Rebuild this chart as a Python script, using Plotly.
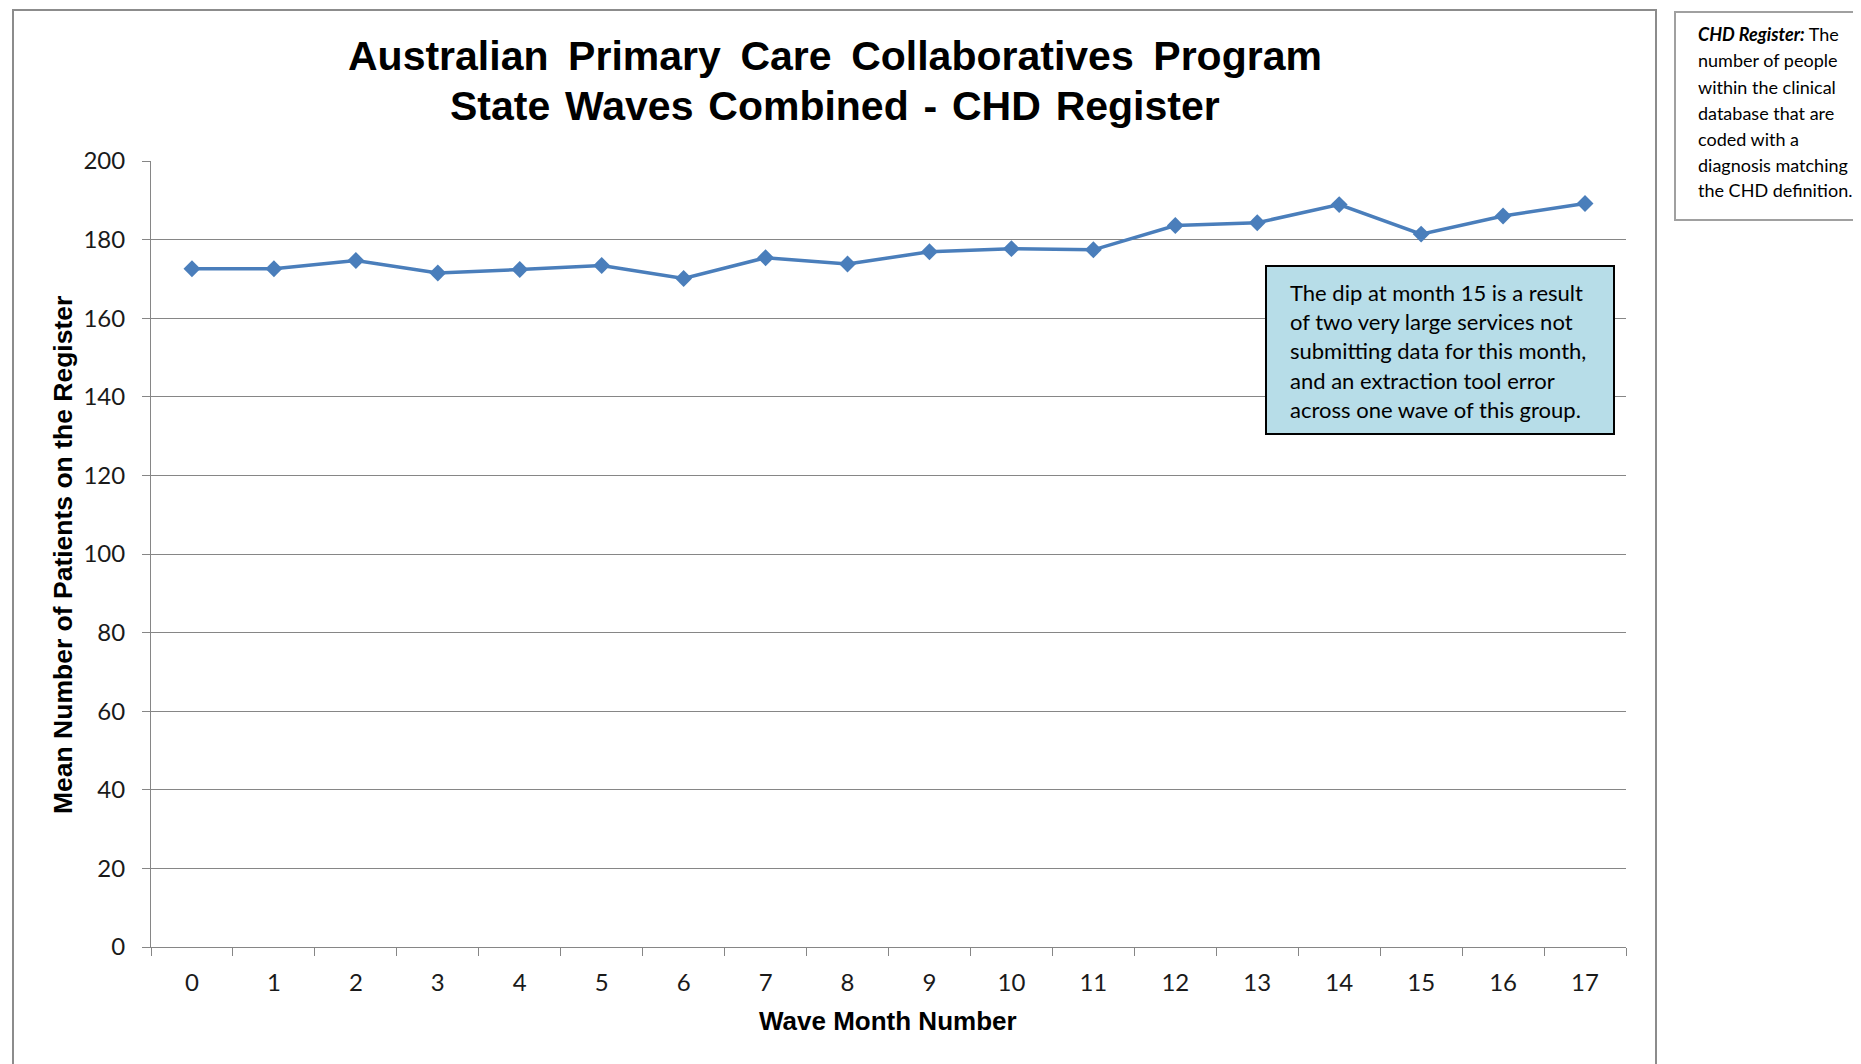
import plotly.graph_objects as go

months = [str(i) for i in range(18)]
mean_patients = [172.6, 172.6, 174.7, 171.5, 172.4, 173.4, 170.1, 175.4, 173.8,
                 176.9, 177.7, 177.4, 183.6, 184.3, 188.9, 181.4, 186.0, 189.2]
y_ticks = [0, 20, 40, 60, 80, 100, 120, 140, 160, 180, 200]

title_lines = ["Australian Primary Care Collaboratives Program",
               "State Waves Combined - CHD Register"]
x_title = "Wave Month Number"
y_title = "Mean Number of Patients on the Register"
note_lines = ["The dip at month 15 is a result",
              "of two very large services not",
              "submitting data for this month,",
              "and an extraction tool error",
              "across one wave of this group."]
side_lines = ["<b><i>CHD Register:</i></b> The", "number of people", "within the clinical",
              "database that are", "coded with a", "diagnosis matching",
              "the CHD definition."]

# the page body adds an 8px margin; positions below are in screen pixels
OFF = 8
W, H = 1861 - OFF, 1064 - OFF
PL, PR, PT, PB = 151, 1626, 161, 947


def px(x):
    return (x - PL) / (PR - PL)


def py(y):
    return (PB - y) / (PB - PT)


fig = go.Figure()
fig.add_trace(go.Scatter(
    x=months, y=mean_patients, mode="lines+markers",
    line=dict(color="#4A7EBB", width=3.5),
    marker=dict(symbol="diamond", size=13, color="#4A7EBB"),
    showlegend=False, cliponaxis=False,
))

gray = "#868686"
fig.update_layout(
    width=W, height=H, autosize=False,
    margin=dict(l=PL - OFF, r=W - (PR - OFF), t=PT - OFF, b=H - (PB - OFF), pad=0),
    paper_bgcolor="white", plot_bgcolor="white",
    xaxis=dict(type="category", range=[-0.5, 17.5], tickson="boundaries", ticks="outside",
               ticklen=8, tickcolor=gray, tickwidth=1, showgrid=False, showline=True,
               linecolor=gray, linewidth=1, zeroline=False,
               tickfont=dict(family="Lato", size=24, color="#1a1a1a"),
               ticklabelstandoff=14),
    yaxis=dict(range=[0, 200], tickvals=y_ticks, ticks="outside", ticklen=8,
               tickcolor=gray, showgrid=True, gridcolor=gray, gridwidth=1,
               showline=True, linecolor=gray, linewidth=1, zeroline=False,
               tickfont=dict(family="Lato", size=24, color="#1a1a1a"),
               ticklabelstandoff=12),
)

shapes = []
# outer chart border
shapes.append(dict(type="rect", xref="paper", yref="paper",
                   x0=px(13), x1=px(1656), y0=py(1080), y1=py(10),
                   line=dict(color="#8c8c8c", width=2), fillcolor="rgba(0,0,0,0)", layer="below"))
# side box
shapes.append(dict(type="rect", xref="paper", yref="paper",
                   x0=px(1675), x1=px(1890), y0=py(220), y1=py(12),
                   line=dict(color="#a0a0a0", width=2), fillcolor="white"))
# note box
shapes.append(dict(type="rect", xref="paper", yref="paper",
                   x0=px(1266), x1=px(1614), y0=py(434), y1=py(266),
                   line=dict(color="black", width=2), fillcolor="#B7DDE8"))
fig.update_layout(shapes=shapes)

ann = []
# title lines
for i, (line, yc, sep) in enumerate(zip(title_lines, [56, 106], [" \u2009", " \u200a"])):
    txt = sep.join(line.split(" "))
    ann.append(dict(xref="paper", yref="paper", x=px(835), y=py(yc), xanchor="center",
                    yanchor="middle", text="<b>" + txt + "</b>", showarrow=False,
                    font=dict(family="Liberation Sans", size=41, color="black")))
# axis titles
ann.append(dict(xref="paper", yref="paper", x=px(888), y=py(1021), xanchor="center", yanchor="middle",
                text="<b>" + x_title + "</b>", showarrow=False,
                font=dict(family="Liberation Sans", size=26, color="black")))
ann.append(dict(xref="paper", yref="paper", x=px(63), y=py(555), xanchor="center", yanchor="middle",
                text="<b>" + y_title + "</b>", showarrow=False, textangle=-90,
                font=dict(family="Liberation Sans", size=26.5, color="black")))
# note text
for i, line in enumerate(note_lines):
    ann.append(dict(xref="paper", yref="paper", x=px(1288), y=py(292 + 29.4 * i),
                    xanchor="left", yanchor="middle", text=line, showarrow=False, align="left",
                    font=dict(family="Lato", size=22, color="black")))
# side text
for i, line in enumerate(side_lines):
    ann.append(dict(xref="paper", yref="paper", x=px(1696), y=py(34.5 + 26 * i),
                    xanchor="left", yanchor="middle", text=line, showarrow=False, align="left",
                    font=dict(family="Lato", size=18, color="black")))
fig.update_layout(annotations=ann)

fig.write_html("out.html")
